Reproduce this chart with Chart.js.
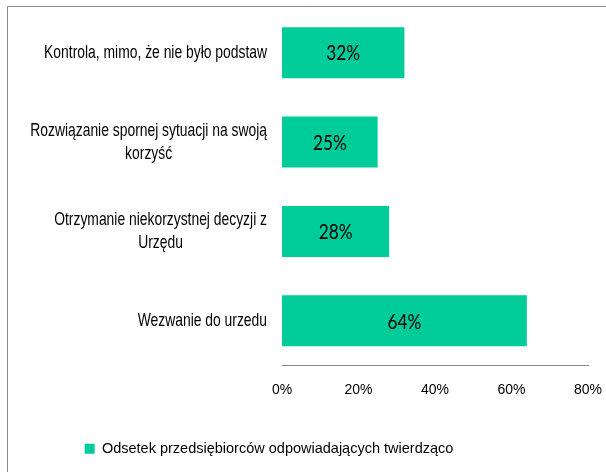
<!DOCTYPE html>
<html>
<head>
<meta charset="utf-8">
<script src="https://cdn.jsdelivr.net/npm/chart.js@4/dist/chart.umd.min.js"></script>
<style>
  html, body { margin: 0; padding: 0; background: #fff; }
  #chart { display: block; }
</style>
</head>
<body>
<canvas id="chart" width="606" height="472"></canvas>
<script>
// dane z wykresu
const categories = [
    ["Kontrola, mimo, że nie było podstaw"],
    ["Rozwiązanie spornej sytuacji na swoją", "korzyść"],
    ["Otrzymanie niekorzystnej decyzji z", "Urzędu"],
    ["Wezwanie do urzedu"]
];
const shareYes = [32, 25, 28, 64];
const xTicks = [0, 20, 40, 60, 80];
const seriesName = "Odsetek przedsiębiorców odpowiadających twierdząco";

const barColor = "#00cc9a";
const sansFont = '"Liberation Sans", Arial, sans-serif';

// ramka wokół wykresu (widać tylko lewą i górną krawędź)
const framePlugin = {
    id: "frame",
    beforeDraw(chart) {
        const ctx = chart.ctx;
        ctx.save();
        ctx.strokeStyle = "#8a8a8a";
        ctx.lineWidth = 1;
        ctx.beginPath();
        ctx.moveTo(7.5, 480);
        ctx.lineTo(7.5, 6.5);
        ctx.lineTo(620, 6.5);
        ctx.stroke();
        ctx.restore();
    }
};

// etykiety kategorii: wyrównane do prawej, linie wyśrodkowane w bloku (zwężona czcionka)
const categoryLabels = {
    id: "categoryLabels",
    afterDraw(chart) {
        const ctx = chart.ctx;
        const yScale = chart.scales.y;
        const right = chart.chartArea.left - 15;
        const sx = 0.75;
        ctx.save();
        ctx.font = "18.5px " + sansFont;
        ctx.fillStyle = "#000";
        ctx.textAlign = "center";
        ctx.textBaseline = "middle";
        categories.forEach((lines, i) => {
            const yc = yScale.getPixelForValue(i);
            const blockW = Math.max(...lines.map(l => ctx.measureText(l).width)) * sx;
            const cx = right - blockW / 2;
            lines.forEach((line, j) => {
                const y = yc + (j - (lines.length - 1) / 2) * 23;
                ctx.save();
                ctx.translate(cx, y);
                ctx.scale(sx, 1);
                ctx.fillText(line, 0, 0);
                ctx.restore();
            });
        });
        ctx.restore();
    }
};

// wartości w środku słupków
const valueLabels = {
    id: "valueLabels",
    afterDatasetsDraw(chart) {
        const ctx = chart.ctx;
        const meta = chart.getDatasetMeta(0);
        ctx.save();
        ctx.font = "21px Lato, sans-serif";
        ctx.fillStyle = "#000";
        ctx.textAlign = "center";
        ctx.textBaseline = "middle";
        meta.data.forEach((bar, i) => {
            const cx = (bar.base + bar.x) / 2;
            ctx.save();
            ctx.translate(cx, bar.y + 1);
            ctx.scale(0.82, 1);
            ctx.fillText(shareYes[i] + "%", 0, 0);
            ctx.restore();
        });
        ctx.restore();
    }
};

// przesunięcie legendy w lewo, jak na oryginale
const legendShift = {
    id: "legendShift",
    afterLayout(chart) {
        if (chart.legend) {
            chart.legend.left -= 25;
            chart.legend.right -= 25;
        }
    }
};

new Chart(document.getElementById("chart"), {
    type: "bar",
    data: {
        labels: categories,
        datasets: [{
            label: seriesName,
            data: shareYes,
            backgroundColor: barColor,
            borderWidth: 0,
            barPercentage: 0.57,
            categoryPercentage: 1
        }]
    },
    options: {
        indexAxis: "y",
        responsive: false,
        animation: false,
        devicePixelRatio: 1,
        layout: { padding: { top: 8, right: 18, bottom: 6, left: 0 } },
        scales: {
            x: {
                min: 0,
                max: 80,
                afterBuildTicks: (s) => { s.ticks = xTicks.map(v => ({ value: v })); },
                afterFit: (s) => {
                    s.height = 63;
                    s.paddingLeft = 0;
                    s.paddingRight = 0;
                },
                grid: { display: false, drawTicks: false },
                border: { display: true, color: "#868686", width: 1 },
                ticks: {
                    padding: 16,
                    color: "#000",
                    font: { family: sansFont, size: 14 },
                    callback: (v) => v + "%"
                }
            },
            y: {
                afterFit: (s) => { s.width = 282; },
                grid: { display: false },
                border: { display: false },
                ticks: { display: false }
            }
        },
        plugins: {
            legend: {
                position: "bottom",
                labels: {
                    boxWidth: 10,
                    boxHeight: 10,
                    padding: 13,
                    color: "#000",
                    font: { family: sansFont, size: 14.5 }
                }
            },
            tooltip: { enabled: false }
        }
    },
    plugins: [framePlugin, categoryLabels, valueLabels, legendShift]
});
</script>
</body>
</html>
